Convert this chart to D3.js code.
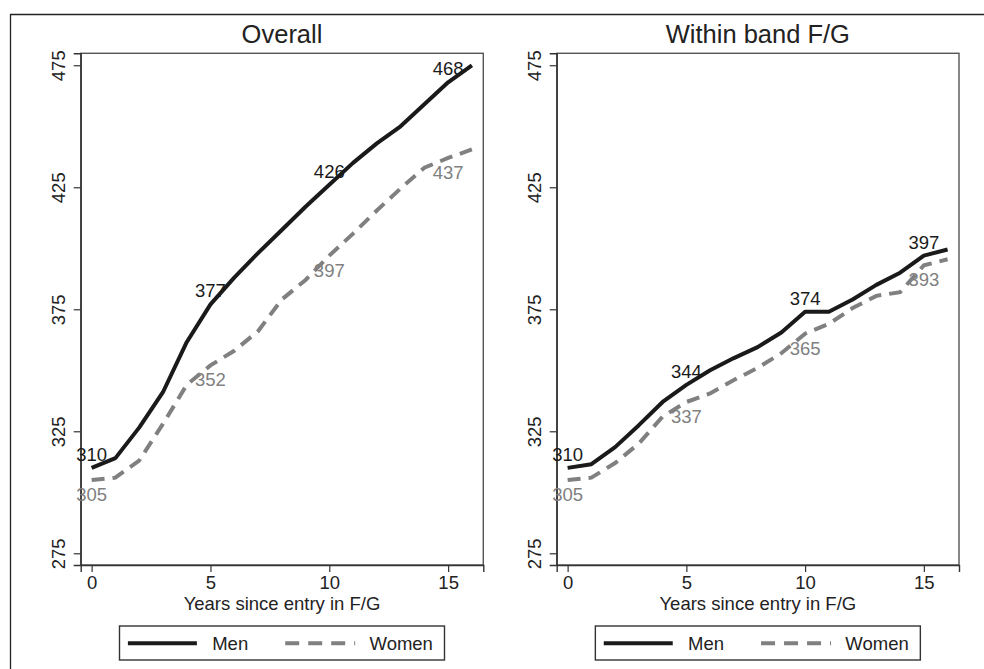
<!DOCTYPE html>
<html>
<head>
<meta charset="utf-8">
<script src="https://cdn.jsdelivr.net/npm/d3@7"></script>
<style>
  html, body { margin: 0; padding: 0; background: #fff; }
  svg { display: block; font-family: "Liberation Sans", Arial, sans-serif; }
</style>
</head>
<body>
<svg id="chart" width="984" height="669"></svg>
<script>
// ---- data ----
const years = [0,1,2,3,4,5,6,7,8,9,10,11,12,13,14,15,16];
const panelTitles = ["Overall", "Within band F/G"];
const overallMen   = [310, 314, 326.5, 341, 361.5, 377, 388, 398, 407.5, 417, 426, 435, 443, 450, 459, 468, 475];
const overallWomen = [305, 306, 313, 328, 344, 352, 358, 366, 379, 387, 397, 406, 415.5, 424.5, 433, 437, 440.5];
const bandMen      = [310, 311.5, 318.5, 327.5, 337, 344, 350, 355, 359.5, 365.5, 374, 374, 379, 385, 390, 397, 399.5];
const bandWomen    = [305, 306, 312, 320, 331, 337, 340.5, 346, 351, 357, 365, 369, 375.5, 380.5, 382, 393, 395.5];
const labelYears   = [0, 5, 10, 15];
const xTicks = [0, 5, 10, 15];
const yTicks = [275, 325, 375, 425, 475];
const xTitle = "Years since entry in F/G";
const seriesNames = ["Men", "Women"];

const panels = [
  { title: panelTitles[0], men: overallMen, women: overallWomen, left: 80.7, right: 483.3 },
  { title: panelTitles[1], men: bandMen, women: bandWomen, left: 556.7, right: 959 }
];

const MEN_COLOR = "#1a1a1a";
const WOMEN_COLOR = "#808080";
const svg = d3.select("#chart");

// outer frame
svg.append("path")
  .attr("d", "M10.5,669 L10.5,14.5 L984,14.5")
  .attr("fill", "none").attr("stroke", "#222").attr("stroke-width", 1.3);

const plotTop = 53.3, plotBottom = 565;

panels.forEach(p => {
  const x = d3.scaleLinear().domain([-0.46, 16.48]).range([p.left, p.right]);
  const y = d3.scaleLinear().domain([270.2, 479.9]).range([plotBottom, plotTop]);
  const g = svg.append("g");
  const cx = (p.left + p.right) / 2;

  // title
  g.append("text").attr("x", cx).attr("y", 43).attr("text-anchor", "middle")
    .attr("font-size", 25.5).attr("fill", "#222").text(p.title);

  // plot region box
  g.append("rect").attr("x", p.left).attr("y", plotTop)
    .attr("width", p.right - p.left).attr("height", plotBottom - plotTop)
    .attr("fill", "none").attr("stroke", "#555").attr("stroke-width", 1.4);

  // axes
  const ax = g.append("g").attr("transform", `translate(0,${plotBottom})`)
    .call(d3.axisBottom(x).tickValues(xTicks).tickSize(7).tickPadding(4));
  ax.select(".domain").attr("stroke", "#333").attr("stroke-width", 1.4);
  ax.selectAll(".tick line").attr("stroke", "#333").attr("stroke-width", 1.2);
  ax.selectAll(".tick text").attr("font-size", 18.5).attr("fill", "#222")
    .attr("font-family", "Liberation Sans, Arial, sans-serif").attr("dy", "0.71em");

  const ay = g.append("g").attr("transform", `translate(${p.left},0)`)
    .call(d3.axisLeft(y).tickValues(yTicks).tickSize(7));
  ay.select(".domain").attr("stroke", "#333").attr("stroke-width", 1.4);
  ay.selectAll(".tick line").attr("stroke", "#333").attr("stroke-width", 1.2);
  ay.selectAll(".tick text")
    .attr("font-size", 18.5).attr("fill", "#222")
    .attr("font-family", "Liberation Sans, Arial, sans-serif")
    .attr("x", null).attr("dy", null)
    .attr("text-anchor", "middle")
    .attr("transform", "translate(-16,0) rotate(-90)")
    .attr("y", 0);

  // x title
  g.append("text").attr("x", cx).attr("y", 610).attr("text-anchor", "middle")
    .attr("font-size", 18.5).attr("fill", "#222").text(xTitle);

  const line = d3.line().x((d, i) => x(years[i])).y(d => y(d));

  g.append("path").datum(p.women).attr("d", line)
    .attr("fill", "none").attr("stroke", WOMEN_COLOR).attr("stroke-width", 4)
    .attr("stroke-dasharray", "13,8");
  g.append("path").datum(p.men).attr("d", line)
    .attr("fill", "none").attr("stroke", MEN_COLOR).attr("stroke-width", 4)
    .attr("stroke-linejoin", "round");

  // point labels
  labelYears.forEach(yr => {
    const i = years.indexOf(yr);
    g.append("text").attr("x", x(yr)).attr("y", y(p.men[i]) - 7)
      .attr("text-anchor", "middle").attr("font-size", 18.5).attr("fill", MEN_COLOR)
      .text(Math.round(p.men[i]));
    g.append("text").attr("x", x(yr)).attr("y", y(p.women[i]) + 21)
      .attr("text-anchor", "middle").attr("font-size", 18.5).attr("fill", WOMEN_COLOR)
      .text(Math.round(p.women[i]));
  });

  // legend
  const lw = 325, lh = 34;
  const lx = cx - lw / 2, ly = 626;
  const lg = g.append("g").attr("transform", `translate(${lx},${ly})`);
  lg.append("rect").attr("width", lw).attr("height", lh)
    .attr("fill", "#fff").attr("stroke", "#333").attr("stroke-width", 1.4);
  lg.append("line").attr("x1", 8.4).attr("x2", 77.4).attr("y1", 17.3).attr("y2", 17.3)
    .attr("stroke", MEN_COLOR).attr("stroke-width", 4);
  lg.append("text").attr("x", 92.7).attr("y", 24).attr("font-size", 18.5)
    .attr("fill", "#222").text(seriesNames[0]);
  lg.append("line").attr("x1", 165.7).attr("x2", 235.7).attr("y1", 17.3).attr("y2", 17.3)
    .attr("stroke", WOMEN_COLOR).attr("stroke-width", 4).attr("stroke-dasharray", "14,9");
  lg.append("text").attr("x", 250).attr("y", 24).attr("font-size", 18.5)
    .attr("fill", "#222").text(seriesNames[1]);
});
</script>
</body>
</html>
